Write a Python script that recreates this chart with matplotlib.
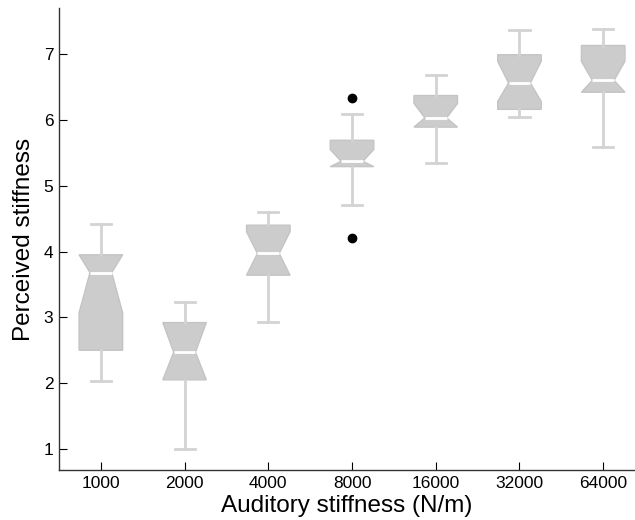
import matplotlib
matplotlib.use("Agg")
import matplotlib.pyplot as plt

plt.rcParams['font.family'] = ['Liberation Sans', 'DejaVu Sans']

labels = ['1000', '2000', '4000', '8000', '16000', '32000', '64000']
whislo = [2.03, 1.00, 2.93, 4.71, 5.34, 6.04, 5.59]
q1 = [2.50, 2.05, 3.64, 5.29, 5.89, 6.16, 6.42]
med = [3.68, 2.47, 3.97, 5.37, 6.03, 6.56, 6.60]
q3 = [3.95, 2.92, 4.40, 5.69, 6.37, 6.99, 7.13]
whishi = [4.42, 3.24, 4.60, 6.09, 6.68, 7.37, 7.38]
cilo = [3.07, 2.05, 3.64, 5.29, 5.89, 6.28, 6.42]
cihi = [3.95, 2.92, 4.30, 5.55, 6.25, 6.89, 6.89]
fliers = [[], [], [], [6.33, 4.20], [], [], []]

stats = []
for i in range(len(labels)):
    stats.append(dict(label=labels[i], whislo=whislo[i], q1=q1[i], med=med[i],
                      q3=q3[i], whishi=whishi[i], cilo=cilo[i], cihi=cihi[i],
                      fliers=fliers[i]))

fig = plt.figure(figsize=(6.35, 5.2), dpi=100)
ax = fig.add_axes([59 / 635, 50 / 520, 1 - 59 / 635, 462 / 520])

gray = '#cccccc'
ax.bxp(stats, positions=range(1, 8), widths=0.52, shownotches=True,
       patch_artist=True, capwidths=0.24,
       boxprops=dict(facecolor=gray, edgecolor='#c4c4c4', linewidth=1),
       medianprops=dict(color='white', linewidth=2),
       whiskerprops=dict(color='#d3d3d3', linewidth=2),
       capprops=dict(color='#d3d3d3', linewidth=2),
       flierprops=dict(marker='o', markerfacecolor='black',
                       markeredgecolor='black', markersize=6))

ax.set_xlim(0.5, 7.38)
ax.set_ylim(0.68, 7.70)
ax.set_yticks([1, 2, 3, 4, 5, 6, 7])
ax.set_xticks(range(1, 8))
ax.set_xticklabels(labels)
ax.tick_params(direction='in', length=6, labelsize=12.5, colors='black', pad=4)
ax.spines['top'].set_visible(False)
ax.spines['right'].set_visible(False)
for s in ['left', 'bottom']:
    ax.spines[s].set_color('#333333')
    ax.spines[s].set_linewidth(1)

ax.set_xlabel('Auditory stiffness (N/m)', fontsize=17.5, labelpad=3)
ax.set_ylabel('Perceived stiffness', fontsize=17.5, labelpad=6)

fig.savefig('out.png', dpi=100)
